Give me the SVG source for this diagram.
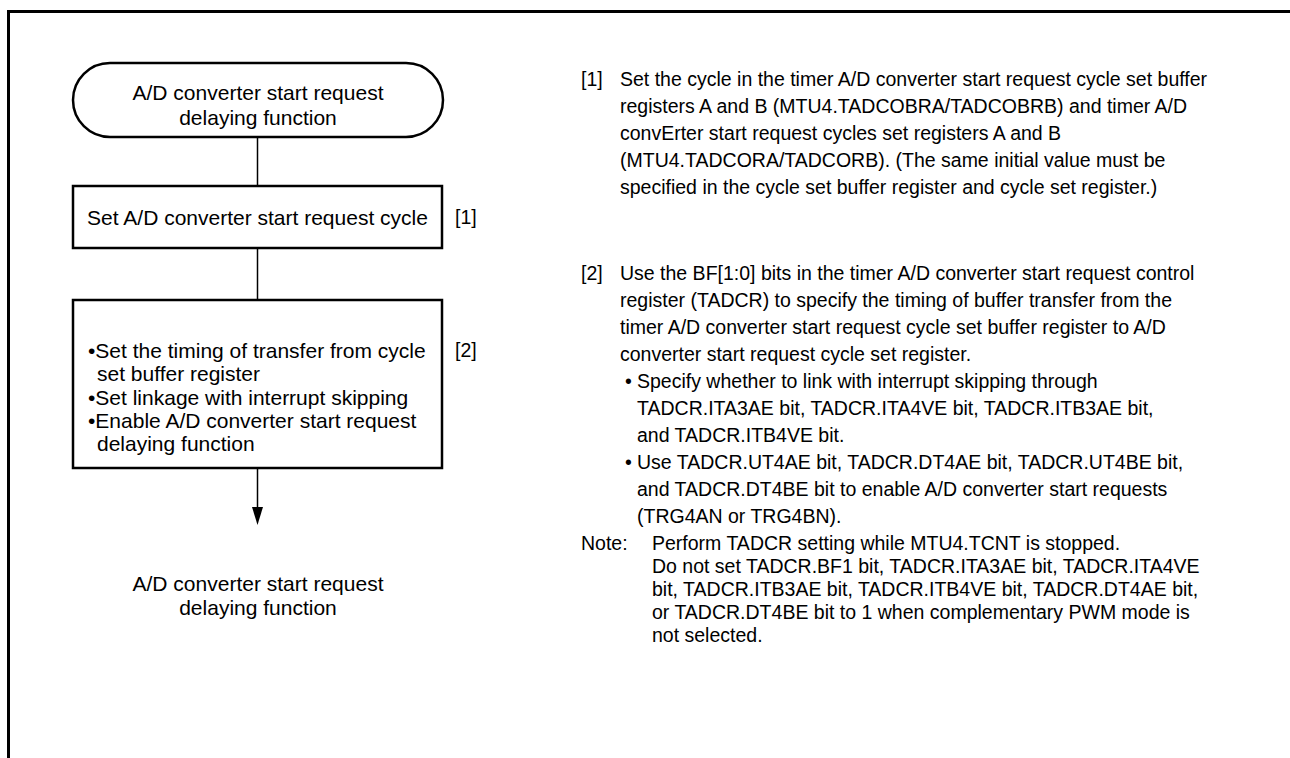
<svg xmlns="http://www.w3.org/2000/svg" width="1290" height="758" viewBox="0 0 1290 758">
<style>
.t{font-family:"Liberation Sans",Arial,sans-serif;font-size:21px;fill:#000}
.r{font-family:"Liberation Sans",Arial,sans-serif;font-size:19.5px;fill:#000}
.c{text-anchor:middle}
.box{fill:#fff;stroke:#000;stroke-width:2.5}
.ln{stroke:#000;stroke-width:1.5;fill:none}
.fr{stroke:#000;stroke-width:3;fill:none}
</style>
<rect width="1290" height="758" fill="#fff"/>
<path class="fr" d="M8.5 758 V11.5 H1290"/>
<g id="start">
<rect class="box" x="73" y="63" width="370" height="74" rx="37" ry="37"/>
<text class="t c" x="258" y="99.5">A/D converter start request</text>
<text class="t c" x="258" y="124.5">delaying function</text>
</g>
<g id="step1">
<rect class="box" x="73" y="186" width="369" height="62"/>
<text class="t c" x="257.5" y="224.5">Set A/D converter start request cycle</text>
<text class="r" x="455" y="224">[1]</text>
</g>
<g id="step2">
<rect class="box" x="73" y="300" width="369" height="168"/>
<text class="t" x="88" y="357.5">•Set the timing of transfer from cycle</text>
<text class="t" x="97" y="380.5">set buffer register</text>
<text class="t" x="88" y="404.5">•Set linkage with interrupt skipping</text>
<text class="t" x="88" y="427.5">•Enable A/D converter start request</text>
<text class="t" x="97" y="450.5">delaying function</text>
<text class="r" x="455" y="357">[2]</text>
</g>
<g id="end">
<text class="t c" x="258" y="590.5">A/D converter start request</text>
<text class="t c" x="258" y="614.5">delaying function</text>
</g>
<g id="connectors">
<line class="ln" x1="257.5" y1="137" x2="257.5" y2="186"/>
<line class="ln" x1="257.5" y1="248" x2="257.5" y2="300"/>
<line class="ln" x1="257.5" y1="468" x2="257.5" y2="508"/>
<polygon points="252,507 263,507 257.5,525" fill="#000"/>
</g>
<g id="notes">
<text class="r" x="581" y="86">[1]</text>
<text class="r" x="620" y="86">Set the cycle in the timer A/D converter start request cycle set buffer</text>
<text class="r" x="620" y="113">registers A and B (MTU4.TADCOBRA/TADCOBRB) and timer A/D</text>
<text class="r" x="620" y="140">convErter start request cycles set registers A and B</text>
<text class="r" x="620" y="167">(MTU4.TADCORA/TADCORB). (The same initial value must be</text>
<text class="r" x="620" y="194">specified in the cycle set buffer register and cycle set register.)</text>
<text class="r" x="581" y="280">[2]</text>
<text class="r" x="620" y="280">Use the BF[1:0] bits in the timer A/D converter start request control</text>
<text class="r" x="620" y="307">register (TADCR) to specify the timing of buffer transfer from the</text>
<text class="r" x="620" y="334">timer A/D converter start request cycle set buffer register to A/D</text>
<text class="r" x="620" y="361">converter start request cycle set register.</text>
<text class="r" x="625" y="388">•</text>
<text class="r" x="637" y="388">Specify whether to link with interrupt skipping through</text>
<text class="r" x="637" y="415">TADCR.ITA3AE bit, TADCR.ITA4VE bit, TADCR.ITB3AE bit,</text>
<text class="r" x="637" y="442">and TADCR.ITB4VE bit.</text>
<text class="r" x="625" y="469">•</text>
<text class="r" x="637" y="469">Use TADCR.UT4AE bit, TADCR.DT4AE bit, TADCR.UT4BE bit,</text>
<text class="r" x="637" y="496">and TADCR.DT4BE bit to enable A/D converter start requests</text>
<text class="r" x="637" y="523">(TRG4AN or TRG4BN).</text>
<text class="r" x="581" y="550">Note:</text>
<text class="r" x="652" y="550">Perform TADCR setting while MTU4.TCNT is stopped.</text>
<text class="r" x="652" y="573">Do not set TADCR.BF1 bit, TADCR.ITA3AE bit, TADCR.ITA4VE</text>
<text class="r" x="652" y="596">bit, TADCR.ITB3AE bit, TADCR.ITB4VE bit, TADCR.DT4AE bit,</text>
<text class="r" x="652" y="619">or TADCR.DT4BE bit to 1 when complementary PWM mode is</text>
<text class="r" x="652" y="642">not selected.</text>
</g>
</svg>
